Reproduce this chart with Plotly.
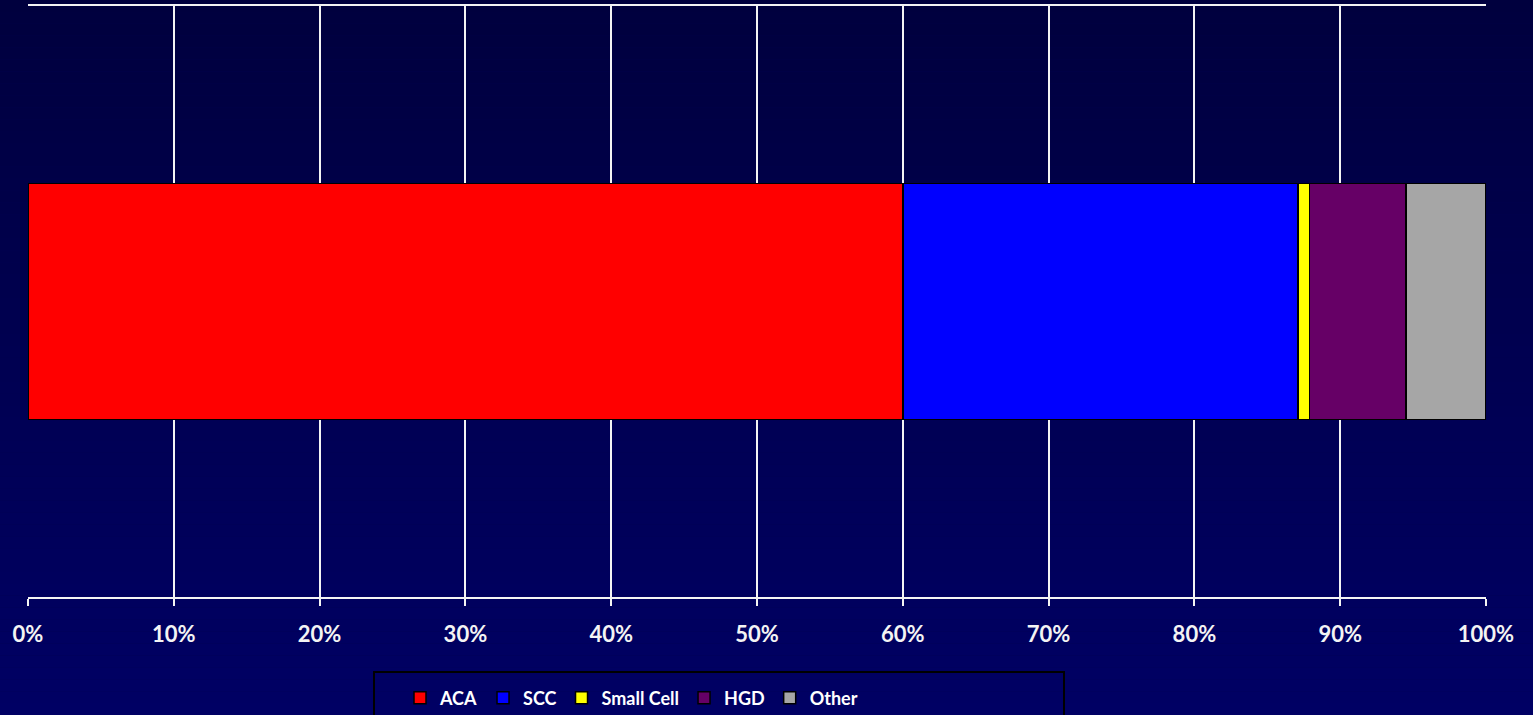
import plotly.graph_objects as go

# ---- data ----
categories = ["ACA", "SCC", "Small Cell", "HGD", "Other"]
values = [60.0, 27.1, 0.8, 6.6, 5.5]          # percent of total
colors = ["#FF0000", "#0000FF", "#FFFF00", "#660066", "#A6A6A6"]
row_label = [""]

W, H = 1533, 715
ML, MR, MT, MB = 28, 47, 6, 118
PW, PH = W - ML - MR, H - MT - MB

def px_x(p):
    return (p - ML) / PW

def px_y(p):
    return (H - MB - p) / PH

fig = go.Figure()
for name, val, col in zip(categories, values, colors):
    fig.add_trace(go.Bar(
        y=row_label, x=[val], name=name, orientation="h",
        marker=dict(color=col, line=dict(color="#000000", width=1.5)),
    ))

# gradient background bands
shapes = []
n = 60
y_top, y_bot = px_y(0), px_y(H)
for i in range(n):
    t = i / (n - 1)
    r, g, b = 0, 0, int(round(62 + (100 - 62) * t))
    y0 = y_top + (y_bot - y_top) * i / n
    y1 = y_top + (y_bot - y_top) * (i + 1) / n
    shapes.append(dict(type="rect", xref="paper", yref="paper",
                       x0=px_x(0), x1=px_x(W), y0=y0, y1=y1,
                       fillcolor=f"rgb({r},{g},{b})", line=dict(width=0),
                       layer="below"))
# legend box
shapes.append(dict(type="rect", xref="paper", yref="paper",
                   x0=px_x(374), x1=px_x(1064), y0=px_y(672), y1=px_y(722),
                   line=dict(color="#000000", width=2), fillcolor="rgba(0,0,0,0)",
                   layer="above"))

fig.update_layout(
    width=W, height=H,
    margin=dict(l=ML, r=MR, t=MT, b=MB, autoexpand=False),
    barmode="stack", bargap=0.6,
    paper_bgcolor="#000050", plot_bgcolor="rgba(0,0,0,0)",
    shapes=shapes,
    showlegend=True,
    legend=dict(orientation="h", x=px_x(400), xanchor="left",
                y=px_y(698), yanchor="middle", traceorder="normal",
                bgcolor="rgba(0,0,0,0)", borderwidth=0,
                font=dict(family="Lato", size=18, color="#FFFFFF", weight="bold"),
                itemclick=False),
    xaxis=dict(range=[0, 100], dtick=10, ticksuffix="%",
               showgrid=True, gridcolor="#F4F4F4", gridwidth=2,
               showline=True, linecolor="#F4F4F4", linewidth=2, mirror=True,
               ticks="outside", ticklen=7, tickwidth=2, tickcolor="#F4F4F4",
               ticklabelstandoff=10,
               tickfont=dict(family="Lato", size=22, color="#F4F4F4", weight="bold"),
               zeroline=False, fixedrange=True),
    yaxis=dict(showticklabels=False, showgrid=False, zeroline=False,
               showline=False, fixedrange=True),
)

fig.write_html("out.html", config={"displayModeBar": False},
               post_script="document.body.style.margin='0px';document.body.style.overflow='hidden';")
